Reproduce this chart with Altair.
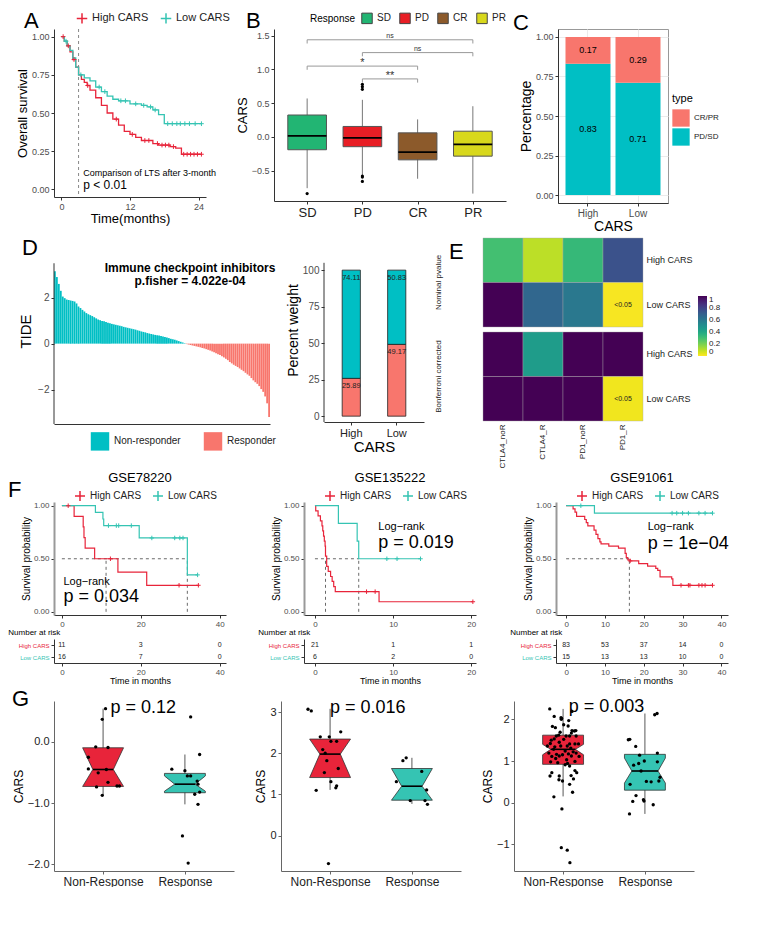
import altair as alt
import pandas as pd

FONT = "Liberation Sans"
RED = "#E8243A"
TEAL = "#35C4B3"
SALMON = "#F8766D"
CYAN = "#00BFC4"
PLUS = "M-1,0L1,0M0,-1L0,1"
GROUPS = ["High CARS", "Low CARS"]

# ---------------- Panel A data
a_high_t = [0, 0.5, 1, 1.5, 2, 2.5, 3, 3.5, 4, 4.5, 5, 6, 7, 8, 9, 10, 11, 12, 13, 14, 16, 17, 19, 20, 21, 24.5]
a_high_s = [1, 0.97, 0.94, 0.9, 0.85, 0.8, 0.75, 0.72, 0.7, 0.68, 0.65, 0.6, 0.55, 0.5, 0.46, 0.42, 0.38, 0.36, 0.34, 0.32, 0.3, 0.29, 0.28, 0.27, 0.23, 0.23]
a_low_t = [0, 0.5, 1, 1.5, 2, 2.5, 3, 4, 5, 6, 7, 8, 9, 10, 12, 14, 15, 16, 17, 18, 24.5]
a_low_s = [1, 0.97, 0.94, 0.91, 0.86, 0.8, 0.75, 0.73, 0.71, 0.67, 0.64, 0.61, 0.59, 0.58, 0.56, 0.55, 0.54, 0.52, 0.49, 0.43, 0.43]
a_high_cens = [0.3, 1.2, 2.2, 4.6, 9.6, 12.4, 14.6, 15.3, 16.8, 17.6, 18.2, 18.8, 19.6, 21.4, 22.0, 22.6, 23.2, 23.8, 24.5]
a_low_cens = [0.8, 3.4, 6.6, 7.6, 10.4, 11.2, 13.0, 14.4, 15.6, 16.4, 18.6, 19.4, 20.2, 20.8, 21.6, 22.4, 23.4, 24.5]
a_notes = ["Comparison of LTS after 3-month", "p < 0.01"]
a_note_x = [3.8, 3.8]
a_note_y = [0.11, 0.03]
a_note_size = [9, 12]

# ---------------- Panel B data
b_cats = ["SD", "PD", "CR", "PR"]
b_colors = ["#22B573", "#E81E25", "#8C5A2B", "#D8D81C"]
b_lo = [-0.76, -0.57, -0.62, -0.84]
b_q1 = [-0.19, -0.145, -0.34, -0.285]
b_med = [0.015, -0.015, -0.225, -0.11]
b_q3 = [0.325, 0.155, 0.06, 0.085]
b_hi = [0.57, 0.55, 0.26, 0.455]
b_out_cat = ["SD", "PD", "PD", "PD", "PD", "PD", "PD"]
b_out_val = [-0.84, 0.78, 0.745, 0.705, -0.58, -0.595, -0.66]
b_br_from = ["SD", "PD", "SD", "PD"]
b_br_to = ["PR", "PR", "CR", "CR"]
b_br_y = [1.44, 1.25, 1.05, 0.86]
b_br_lab = ["ns", "ns", "*", "**"]

# ---------------- Panel C data
c_cats = ["High", "Low"]
c_pdsd = [0.83, 0.71]
c_crpr = [0.17, 0.29]

# ---------------- Panel D data
d_tide = [3.15, 2.9, 2.6, 2.3, 2.05, 1.98, 1.92, 1.9, 1.88, 1.86, 1.83, 1.75,
          1.62, 1.55, 1.47, 1.4, 1.33, 1.28, 1.24, 1.2, 1.15, 1.1, 1.05, 1.02,
          0.99, 0.97, 0.94, 0.91, 0.89, 0.86, 0.84, 0.82, 0.8, 0.78, 0.76,
          0.73, 0.71, 0.69, 0.67, 0.65, 0.63, 0.61, 0.58, 0.56, 0.53, 0.51, 0.49, 0.46, 0.44,
          0.42, 0.4, 0.38, 0.36, 0.35, 0.33, 0.31, 0.29, 0.27, 0.24, 0.21, 0.19, 0.17,
          0.14, 0.11, 0.08, 0.05, 0.02,
          -0.02, -0.04, -0.06, -0.08, -0.1, -0.12, -0.14, -0.16, -0.19, -0.21, -0.24, -0.27,
          -0.3, -0.34, -0.38, -0.42, -0.46, -0.5, -0.55, -0.6, -0.66, -0.72, -0.8, -0.86,
          -0.92, -0.97, -1.02, -1.08, -1.14, -1.2, -1.27, -1.34, -1.4,
          -1.5, -1.6, -1.68, -1.75, -1.85, -1.98, -2.1, -2.3, -2.6, -3.2]
d_title = ["Immune checkpoint inhibitors", "p.fisher = 4.022e-04"]
d2_cats = ["High", "Low"]
d2_resp = [25.89, 49.17]
d2_non = [74.11, 50.83]

# ---------------- Panel E data
e_cols = ["CTLA4_noR", "CTLA4_R", "PD1_noR", "PD1_R"]
e_panels = ["Nominal pvalue", "Bonferroni corrected"]
e_nom_high = [0.3, 0.1, 0.33, 0.75]
e_nom_low = [1.0, 0.67, 0.6, 0.01]
e_bon_high = [1.0, 0.45, 1.0, 1.0]
e_bon_low = [1.0, 1.0, 1.0, 0.02]

# ---------------- Panel F data
f1_high_t = [0, 3.1, 5.4, 5.6, 5.9, 8.3, 14.2, 21.5, 34.6]
f1_high_s = [1, 0.9, 0.8, 0.7, 0.6, 0.5, 0.375, 0.25, 0.25]
f1_high_c = [1.6, 12.3, 29.7, 34.6]
f1_low_t = [0, 8.5, 10.4, 10.6, 19.6, 31.8, 34.4]
f1_low_s = [1, 0.9375, 0.875, 0.8125, 0.696, 0.348, 0.348]
f1_low_c = [11.8, 13.8, 14.4, 17.6, 22.8, 28.6, 29.9, 30.7, 34.4]
f1_med = [11.2, 31.8]
f1_risk_t = [0, 20, 40]
f1_risk_high = [11, 3, 0]
f1_risk_low = [16, 7, 0]

f2_high_t = [0, 0.1, 0.4, 0.7, 0.9, 1.0, 1.1, 1.2, 1.3, 1.35, 1.5, 1.7, 2.0, 2.2, 2.4, 2.6, 8.2, 20.2]
f2_high_s = [1.0, 0.952, 0.905, 0.857, 0.81, 0.762, 0.714, 0.667, 0.619, 0.524, 0.429, 0.381, 0.333, 0.286, 0.238, 0.19, 0.095, 0.095]
f2_high_c = [6.6, 7.7, 20.2]
f2_low_t = [0, 3.0, 5.4, 5.6, 13.5]
f2_low_s = [1.0, 0.833, 0.667, 0.5, 0.5]
f2_low_c = [9.2, 10.5, 13.5]
f2_med = [1.35, 5.6]
f2_risk_t = [0, 10, 20]
f2_risk_high = [21, 1, 1]
f2_risk_low = [6, 2, 0]

f3_high_t = [0, 1.8, 2.3, 2.7, 4.8, 5.2, 5.6, 7.2, 7.7, 8.2, 8.7, 9.0, 11.0, 13.5, 15.2, 15.5, 15.9, 16.5, 18.7, 21.0, 23.1, 23.6, 24.2, 27.2, 27.5, 37.7]
f3_high_s = [1.0, 0.97, 0.94, 0.9, 0.87, 0.84, 0.81, 0.77, 0.73, 0.69, 0.66, 0.64, 0.62, 0.6, 0.55, 0.51, 0.49, 0.48, 0.455, 0.43, 0.41, 0.39, 0.33, 0.31, 0.25, 0.25]
f3_high_c = [16.5, 29.6, 31.5, 31.9, 34.2, 35.0, 35.8, 37.7]
f3_low_t = [0, 7.3, 37.7]
f3_low_s = [1.0, 0.93, 0.93]
f3_low_c = [3.8, 27.3, 28.5, 30.0, 31.5, 34.2, 35.8, 37.7]
f3_med = [16.3]
f3_risk_t = [0, 10, 20, 30, 40]
f3_risk_high = [83, 53, 37, 14, 0]
f3_risk_low = [15, 13, 13, 10, 0]

# ---------------- Panel G data
g_groups = ["Non-Response", "Response"]
g1_red = dict(q1=-0.727, nlo=-0.727, med=-0.45, nhi=-0.095, q3=-0.095, lo=-0.873, hi=0.545, r=0.5)
g1_teal = dict(q1=-0.83, nlo=-0.805, med=-0.69, nhi=-0.555, q3=-0.514, lo=-1.02, hi=-0.205, r=0.5)
g1_red_dx = [0.03, -0.01, -0.09, 0.06, -0.18, -0.18, -0.06, 0.04, 0.06, -0.08, 0.17, 0.2, -0.01]
g1_red_y = [0.545, 0.37, -0.08, -0.09, -0.25, -0.44, -0.505, -0.45, -0.66, -0.735, -0.72, -0.72, -0.873]
g1_teal_dx = [-0.16, 0.0, 0.03, 0.07, 0.15, 0.16, 0.18, 0.12, 0.16, 0.18, 0.07, -0.03, 0.04]
g1_teal_y = [-0.445, -0.47, -0.555, -0.555, -0.64, -0.69, -0.82, -0.855, -1.02, -0.205, 0.41, -1.536, -1.98]

g2_red = dict(q1=1.41, nlo=1.41, med=1.98, nhi=2.345, q3=2.345, lo=1.11, hi=3.08, r=0.5)
g2_teal = dict(q1=0.86, nlo=0.86, med=1.2, nhi=1.63, q3=1.63, lo=0.77, hi=1.89, r=0.5)
g2_red_dx = [-0.27, -0.23, 0.13, -0.12, -0.01, 0.01, 0.08, -0.09, -0.06, -0.04, 0.1, -0.07, 0.01, 0.08, 0.07, -0.17, -0.02]
g2_red_y = [3.07, 3.03, 2.52, 2.4, 2.4, 2.29, 2.29, 2.09, 2.0, 1.82, 1.63, 1.53, 1.31, 1.21, 1.16, 1.1, -0.68]
g2_teal_dx = [-0.11, -0.07, 0.12, -0.19, 0.18, -0.02, 0.16, 0.19]
g2_teal_y = [1.82, 1.89, 1.56, 1.31, 1.11, 0.85, 0.85, 0.76]

g3_red = dict(q1=0.92, nlo=1.15, med=1.28, nhi=1.4, q3=1.62, lo=0.15, hi=2.25, r=0.6)
g3_teal = dict(q1=0.3, nlo=0.47, med=0.76, nhi=1.07, q3=1.16, lo=-0.27, hi=2.14, r=0.64)
g3_red_px = [173, 248, 188, 211, 213, 212, 237, 182, 235, 192, 220, 248, 256, 261, 208, 246, 195, 203, 228, 240,
             262, 178, 188, 220, 205, 175, 240, 258, 270, 165, 190, 210, 232, 244, 186, 225, 252, 170, 196, 216,
             236, 262, 180, 205, 246, 272, 193, 230, 176, 200, 258, 233, 240, 225, 180, 258, 264, 174, 205, 245,
             253, 204, 216, 240, 250, 187, 214, 212, 232, 241]
g3_red_y = [2.25, 2.19, 2.07, 2.04, 2.02, 2.0, 1.97, 1.83, 1.84, 1.8, 1.87, 1.73, 1.72, 1.73, 1.69, 1.67, 1.6, 1.62, 1.6, 1.6,
            1.6, 1.5, 1.53, 1.52, 1.45, 1.42, 1.41, 1.41, 1.41, 1.36, 1.34, 1.36, 1.36, 1.31, 1.28, 1.24, 1.22, 1.19, 1.16, 1.15,
            1.17, 1.19, 1.11, 1.12, 1.12, 1.11, 1.06, 1.03, 0.98, 0.96, 0.99, 0.94, 0.88, 0.91, 0.72, 0.77, 0.72, 0.64, 0.64, 0.65,
            0.57, 0.55, 0.52, 0.44, 0.25, 0.14, -0.15, -1.08, -1.14, -1.44]
g3_teal_px = [437, 442, 462, 534, 526, 475, 535, 491, 535, 455, 472, 480, 544, 540, 498, 514, 443, 463, 488, 490, 452, 521, 441]
g3_teal_y = [1.51, 1.52, 1.35, 2.14, 2.11, 1.14, 1.19, 1.0, 0.98, 0.9, 0.94, 0.76, 0.61, 0.52, 0.51, 0.5, 0.44, 0.17, 0.07, 0.04, 0.03, -0.05, -0.27]
g3_red_dx = [(p - 218) / 276 for p in g3_red_px]
g3_teal_dx = [(p - 493) / 276 for p in g3_teal_px]


# ================= helpers
def label_mark(ch, x, y, size=22, align="left", baseline="top", weight="normal"):
    return alt.Chart(pd.DataFrame({"l": [ch]})).mark_text(
        fontSize=size, align=align, baseline=baseline, font=FONT, color="black", fontWeight=weight
    ).encode(x=alt.value(x), y=alt.value(y), text="l:N")


def step_at(ts, ss, x):
    v = ss[0]
    for t, s in zip(ts, ss):
        if t <= x:
            v = s
    return v


def km_frames(ht, hs, lt, ls):
    return pd.concat([pd.DataFrame({"t": ht, "s": hs, "grpkm": "High CARS"}),
                      pd.DataFrame({"t": lt, "s": ls, "grpkm": "Low CARS"})], ignore_index=True)


def cens_frame(ht, hs, hc, lt, ls, lc):
    rows = [{"t": c, "s": step_at(ht, hs, c), "grpkm": "High CARS"} for c in hc]
    rows += [{"t": c, "s": step_at(lt, ls, c), "grpkm": "Low CARS"} for c in lc]
    return pd.DataFrame(rows)


def cscale():
    return alt.Scale(domain=GROUPS, range=[RED, TEAL])


IND = dict(color="independent", x="independent", y="independent")

# ================= Panel A
A_W, A_H = 152, 168
a_x = alt.X("t:Q", scale=alt.Scale(domain=[-1.3, 25.3], nice=False, zero=False),
            axis=alt.Axis(values=list(range(0, 25, 3)), title="Time(months)", titleFontSize=13, labelFontSize=9,
                          titlePadding=1))
a_y = alt.Y("s:Q", scale=alt.Scale(domain=[-0.05, 1.05], nice=False),
            axis=alt.Axis(values=[0, 0.25, 0.5, 0.75, 1], format=".2f", title="Overall survival", titleFontSize=13,
                          labelFontSize=9, titlePadding=2))
a_lines = alt.Chart(km_frames(a_high_t, a_high_s, a_low_t, a_low_s)).mark_line(
    interpolate="step-after", strokeWidth=1.3).encode(
    x=a_x, y=a_y,
    color=alt.Color("grpkm:N", scale=cscale(), legend=alt.Legend(
        title=None, orient="none", legendX=22, legendY=-17, direction="horizontal",
        symbolType=PLUS, symbolSize=110, symbolStrokeWidth=1.5, labelFontSize=11, columnPadding=8)))
a_cens = alt.Chart(cens_frame(a_high_t, a_high_s, a_high_cens, a_low_t, a_low_s, a_low_cens)).mark_point(
    shape=PLUS, size=22, strokeWidth=1, filled=False, opacity=1).encode(
    x="t:Q", y="s:Q", color=alt.Color("grpkm:N", scale=cscale(), legend=None))
a_rule = alt.Chart(pd.DataFrame({"x": [3]})).mark_rule(strokeDash=[3, 3], color="#888", strokeWidth=1).encode(x="x:Q")
a_text = alt.Chart(pd.DataFrame({"x": a_note_x, "y": a_note_y, "l": a_notes, "sz": a_note_size})).mark_text(
    align="left", baseline="middle", color="black").encode(
    x="x:Q", y="y:Q", text="l:N", size=alt.Size("sz:Q", scale=None, legend=None))
panel_a = alt.layer(a_rule, a_lines, a_cens, a_text, label_mark("A", -30, -18)).properties(width=A_W, height=A_H)

# ================= Panel B
pos = {c: i + 1 for i, c in enumerate(b_cats)}
b_df = pd.DataFrame({"cat": b_cats, "p": [pos[c] for c in b_cats], "lo": b_lo, "q1": b_q1,
                     "med": b_med, "q3": b_q3, "hi": b_hi})
b_df["x1"] = b_df["p"] - 0.35
b_df["x2"] = b_df["p"] + 0.35
b_x = alt.X("p:Q", scale=alt.Scale(domain=[0.4, 4.6], nice=False, zero=False),
            axis=alt.Axis(values=[1, 2, 3, 4], labelExpr="['','SD','PD','CR','PR'][datum.value]",
                          title=None, labelFontSize=13, labelColor="#222"))
b_y = alt.Y("lo:Q", scale=alt.Scale(domain=[-0.95, 1.6], nice=False),
            axis=alt.Axis(values=[-0.5, 0, 0.5, 1.0, 1.5], format=".1f", title="CARS", titleFontSize=13,
                          labelFontSize=9, titlePadding=2))
b_whisk = alt.Chart(b_df).mark_rule(color="#777", strokeWidth=1).encode(x=b_x, y=b_y, y2="hi:Q")
b_box = alt.Chart(b_df).mark_rect(stroke="#555", strokeWidth=1).encode(
    x="x1:Q", x2="x2:Q", y="q1:Q", y2="q3:Q",
    color=alt.Color("cat:N", scale=alt.Scale(domain=b_cats, range=b_colors), legend=alt.Legend(
        title="Response", titleOrient="left", orient="none", legendX=36, legendY=-17, direction="horizontal",
        symbolType="square", symbolSize=110, symbolStrokeColor="#444", symbolStrokeWidth=1,
        labelFontSize=10, titleFontSize=10, columnPadding=6)))
b_medr = alt.Chart(b_df).mark_rule(color="black", strokeWidth=1.8).encode(x="x1:Q", x2="x2:Q", y="med:Q")
b_out = alt.Chart(pd.DataFrame({"p": [pos[c] for c in b_out_cat], "v": b_out_val})).mark_circle(
    size=10, color="black", opacity=1).encode(x="p:Q", y="v:Q")
br_df = pd.DataFrame({"p1": [pos[c] for c in b_br_from], "p2": [pos[c] for c in b_br_to], "y": b_br_y, "lab": b_br_lab})
br_df["yb"] = br_df["y"] - 0.055
br_df["pm"] = (br_df["p1"] + br_df["p2"]) / 2
br_df["yt"] = br_df["y"] + 0.05
br_df["sz"] = [7 if l == "ns" else 11 for l in b_br_lab]
b_brh = alt.Chart(br_df).mark_rule(color="#999", strokeWidth=1).encode(x="p1:Q", x2="p2:Q", y="y:Q")
b_brl = alt.Chart(br_df).mark_rule(color="#999", strokeWidth=1).encode(x="p1:Q", y="y:Q", y2="yb:Q")
b_brr = alt.Chart(br_df).mark_rule(color="#999", strokeWidth=1).encode(x="p2:Q", y="y:Q", y2="yb:Q")
b_brt = alt.Chart(br_df).mark_text(color="#333").encode(
    x="pm:Q", y="yt:Q", text="lab:N", size=alt.Size("sz:Q", scale=None, legend=None))
panel_b = alt.layer(b_whisk, b_box, b_medr, b_out, b_brh, b_brl, b_brr, b_brt,
                    label_mark("B", -28, -18)).properties(width=232, height=172)

# ================= Panel C
c_rows = []
for cat, a, b in zip(c_cats, c_pdsd, c_crpr):
    c_rows.append({"cat": cat, "ctype": "PD/SD", "y0": 0, "y1": a, "mid": a / 2, "lab": f"{a:.2f}"})
    c_rows.append({"cat": cat, "ctype": "CR/PR", "y0": a, "y1": a + b, "mid": a + b / 2, "lab": f"{b:.2f}"})
c_df = pd.DataFrame(c_rows)
C_W = 110
c_x = alt.X("cat:N", scale=alt.Scale(paddingInner=0.1, paddingOuter=0.15),
            axis=alt.Axis(title="CARS", labelAngle=0, titleFontSize=14, labelFontSize=10, grid=True,
                          gridColor="#ebebeb", titlePadding=1))
c_y = alt.Y("y0:Q", scale=alt.Scale(domain=[-0.05, 1.05], nice=False),
            axis=alt.Axis(values=[0, 0.25, 0.5, 0.75, 1], format=".2f", title="Percentage",
                          titleFontSize=14, labelFontSize=9, grid=True, gridColor="#ebebeb", titlePadding=2))
c_bar = alt.Chart(c_df).mark_bar().encode(
    x=c_x, y=c_y, y2="y1:Q",
    color=alt.Color("ctype:N", scale=alt.Scale(domain=["CR/PR", "PD/SD"], range=[SALMON, CYAN]), legend=alt.Legend(
        title="type", orient="none", legendX=C_W + 4, legendY=64, symbolType="square", symbolSize=300,
        symbolStrokeWidth=0, labelFontSize=8, titleFontSize=11, rowPadding=1)))
c_txt = alt.Chart(c_df).mark_text(fontSize=9, color="black").encode(x="cat:N", y="mid:Q", text="lab:N")
panel_c = alt.layer(c_bar, c_txt, label_mark("C", -45, -16)).properties(
    width=C_W, height=174, view=alt.ViewBackground(stroke="#999", strokeWidth=1))

# ================= Panel D (waterfall)
D_W, D_H = 216, 186
D_TOP = 4.6
d_df = pd.DataFrame({"i": list(range(len(d_tide))), "v": d_tide,
                     "dgrp": ["Non-responder" if v > 0 else "Responder" for v in d_tide]})
d_bars = alt.Chart(d_df).mark_bar().encode(
    x=alt.X("i:O", scale=alt.Scale(paddingInner=0.08, paddingOuter=0),
            axis=alt.Axis(labels=False, ticks=False, title=None, domainColor="#333")),
    y=alt.Y("v:Q", scale=alt.Scale(domain=[-3.5, D_TOP], nice=False),
            axis=alt.Axis(values=[-2, 0, 2], title="TIDE", titleFontSize=15, labelFontSize=10, titlePadding=4,
                          domain=False)),
    color=alt.Color("dgrp:N", scale=alt.Scale(domain=["Non-responder", "Responder"], range=[CYAN, SALMON]),
                    legend=alt.Legend(title=None, orient="none", legendX=36, legendY=D_H + 7, direction="horizontal",
                                      symbolType="square", symbolSize=340, labelFontSize=10, columnPadding=22)))
d_axis = alt.Chart(pd.DataFrame({"a": [-3.5], "b": [3.5]})).mark_rule(color="#333", strokeWidth=1).encode(
    x=alt.value(0), y="a:Q", y2="b:Q")
d_t = alt.Chart(pd.DataFrame({"l": d_title, "yy": [30, 43]})).mark_text(
    fontSize=12, fontWeight="bold", color="black").encode(x=alt.value(136), y=alt.Y("yy:Q", scale=None), text="l:N")
panel_d = alt.layer(d_bars, d_axis, d_t, label_mark("D", -32, 0)).properties(width=D_W, height=D_H)

# ================= Panel D (stacked percent)
D2_TOP = 122
d2_rows = []
for cat, r, n in zip(d2_cats, d2_resp, d2_non):
    d2_rows.append({"cat": cat, "dgrp2": "Responder", "y0": 0, "y1": r, "ly": r - 5.5, "lab": f"{r:.2f}"})
    d2_rows.append({"cat": cat, "dgrp2": "Non-responder", "y0": r, "y1": 100, "ly": 100 - 5.5, "lab": f"{n:.2f}"})
d2_df = pd.DataFrame(d2_rows)
d2_bar = alt.Chart(d2_df).mark_bar(stroke="#222", strokeWidth=0.8).encode(
    x=alt.X("cat:N", scale=alt.Scale(paddingInner=0.6, paddingOuter=0.4),
            axis=alt.Axis(title="CARS", labelAngle=0, titleFontSize=15, labelFontSize=11, labelColor="#222",
                          titlePadding=1)),
    y=alt.Y("y0:Q", scale=alt.Scale(domain=[-4, D2_TOP], nice=False),
            axis=alt.Axis(values=[0, 25, 50, 75, 100], title="Percent weight", titleFontSize=14, labelFontSize=10,
                          titlePadding=2, domain=False)),
    y2="y1:Q",
    color=alt.Color("dgrp2:N", scale=alt.Scale(domain=["Non-responder", "Responder"], range=[CYAN, SALMON]),
                    legend=None))
d2_axis = alt.Chart(pd.DataFrame({"a": [-4], "b": [105]})).mark_rule(color="#333", strokeWidth=1).encode(
    x=alt.value(0), y="a:Q", y2="b:Q")
d2_txt = alt.Chart(d2_df).mark_text(fontSize=7.5, color="#222").encode(x="cat:N", y="ly:Q", text="lab:N")
panel_d2 = alt.layer(d2_bar, d2_axis, d2_txt).properties(width=100, height=184)

# ================= Panel E
E_W, E_H = 160, 89
e_rows = []
for panel, hi_vals, lo_vals in [("Nominal pvalue", e_nom_high, e_nom_low), ("Bonferroni corrected", e_bon_high, e_bon_low)]:
    for col, v in zip(e_cols, hi_vals):
        e_rows.append({"panel": panel, "row": "High CARS", "col": col, "ev": v, "lab": "<0.05" if v < 0.05 else ""})
    for col, v in zip(e_cols, lo_vals):
        e_rows.append({"panel": panel, "row": "Low CARS", "col": col, "ev": v, "lab": "<0.05" if v < 0.05 else ""})
e_df = pd.DataFrame(e_rows)
e_base = alt.Chart().encode(
    x=alt.X("col:N", sort=e_cols, axis=alt.Axis(title=None, labelAngle=-90, labelFontSize=8, ticks=False,
                                                domain=False, labelColor="#222")),
    y=alt.Y("row:N", sort=GROUPS, axis=alt.Axis(orient="right", title=None, labelFontSize=9, ticks=False,
                                                domain=False, labelColor="#222")))
e_rect = e_base.mark_rect(stroke="#aaaaaa", strokeWidth=0.4).encode(
    color=alt.Color("ev:Q", scale=alt.Scale(scheme="viridis", reverse=True, domain=[0, 1]),
                    legend=alt.Legend(title=None, orient="none", legendX=E_W + 55, legendY=58,
                                      gradientLength=60, gradientThickness=9, format="~g",
                                      values=[0, 0.2, 0.4, 0.6, 0.8, 1], labelFontSize=8,
                                      labelOverlap=False, padding=0)))
e_txt = e_base.mark_text(fontSize=7, color="#222").encode(text="lab:N")
e_let = e_base.mark_text(fontSize=22, align="left", baseline="middle", color="black").encode(
    x=alt.value(-34), y=alt.value(14), text=alt.value("E")).transform_filter(
    "datum.panel == 'Nominal pvalue' && datum.row == 'High CARS' && datum.col == 'CTLA4_noR'")
panel_e = alt.layer(e_rect, e_txt, e_let, data=e_df).properties(width=E_W, height=E_H).facet(
    row=alt.Row("panel:N", sort=e_panels, header=alt.Header(title=None, labelOrient="left", labelAngle=-90,
                                                          labelFontSize=8, labelPadding=2)),
    spacing=3)


# ================= Panel F
F_W, F_H = 172, 113


def f_panel(name, ht, hs, hc, lt, ls, lc, xdom, xvals, meds, lr_x, lr_y, pval,
            risk_t, risk_h, risk_l, let=None):
    fx = alt.X("t:Q", scale=alt.Scale(domain=xdom, nice=False, zero=False),
               axis=alt.Axis(values=xvals, title=None, labelFontSize=8))
    fy = alt.Y("s:Q", scale=alt.Scale(domain=[-0.03, 1.035], nice=False),
               axis=alt.Axis(values=[0, 0.25, 0.5, 0.75, 1], format=".2f", title="Survival probability",
                             titleFontSize=10, labelFontSize=8, domainWidth=2, domainColor="#999", titlePadding=2))
    lines = alt.Chart(km_frames(ht, hs, lt, ls)).mark_line(interpolate="step-after", strokeWidth=1.2).encode(
        x=fx, y=fy, color=alt.Color("grpkm:N", scale=cscale(), legend=alt.Legend(
            title=None, orient="none", legendX=20, legendY=-12, direction="horizontal",
            symbolType=PLUS, symbolSize=100, symbolStrokeWidth=1.5, labelFontSize=10, columnPadding=8)))
    cens = alt.Chart(cens_frame(ht, hs, hc, lt, ls, lc)).mark_point(
        shape=PLUS, size=20, strokeWidth=1, filled=False, opacity=1).encode(
        x="t:Q", y="s:Q", color=alt.Color("grpkm:N", scale=cscale(), legend=None))
    hline = alt.Chart(pd.DataFrame({"a": [0], "b": [max(meds)], "y": [0.5]})).mark_rule(
        strokeDash=[3, 3], color="#444", strokeWidth=0.8).encode(x="a:Q", x2="b:Q", y="y:Q")
    vline = alt.Chart(pd.DataFrame({"m": meds, "y0": [0] * len(meds), "y1": [0.5] * len(meds)})).mark_rule(
        strokeDash=[3, 3], color="#444", strokeWidth=0.8).encode(x="m:Q", y="y0:Q", y2="y1:Q")
    txt = alt.Chart(pd.DataFrame({"x": [lr_x, lr_x], "y": lr_y, "l": ["Log\u2212rank", pval], "sz": [11, 18]})).mark_text(
        align="left", baseline="middle", color="black").encode(
        x="x:Q", y="y:Q", text="l:N", size=alt.Size("sz:Q", scale=None, legend=None))
    layers = [hline, vline, lines, cens, txt, label_mark(name, F_W / 2, -30, size=13, align="center")]
    if let:
        layers.append(label_mark(let, -46, -22))
    km = alt.layer(*layers).properties(width=F_W, height=F_H)
    rdf = pd.DataFrame({"t": risk_t + risk_t, "n": risk_h + risk_l,
                        "rg": ["High CARS"] * len(risk_t) + ["Low CARS"] * len(risk_t)})
    risk = alt.Chart(rdf).mark_text(fontSize=7, color="#222").encode(
        x=alt.X("t:Q", scale=alt.Scale(domain=xdom, nice=False, zero=False),
                axis=alt.Axis(values=xvals, title="Time in months", titleFontSize=9, labelFontSize=8, titlePadding=0)),
        y=alt.Y("rg:N", scale=alt.Scale(domain=GROUPS),
                axis=alt.Axis(title=None, labelFontSize=6, labelColor={
                    "condition": {"test": "datum.value === 'High CARS'", "value": RED}, "value": TEAL})),
        text="n:Q").properties(width=F_W, height=24, title=alt.TitleParams(
            "Number at risk", fontSize=8, anchor="start", offset=2, dx=-10))
    return alt.vconcat(km, risk, spacing=1).resolve_scale(**IND)


panel_f1 = f_panel("GSE78220", f1_high_t, f1_high_s, f1_high_c, f1_low_t, f1_low_s, f1_low_c,
                   [-2, 41.6], [0, 20, 40], f1_med, 0.4, [0.28, 0.14], "p = 0.034",
                   f1_risk_t, f1_risk_high, f1_risk_low, let="F")
panel_f2 = f_panel("GSE135222", f2_high_t, f2_high_s, f2_high_c, f2_low_t, f2_low_s, f2_low_c,
                   [-1.4, 20.6], [0, 10, 20], f2_med, 8.1, [0.80, 0.65], "p = 0.019",
                   f2_risk_t, f2_risk_high, f2_risk_low)
panel_f3 = f_panel("GSE91061", f3_high_t, f3_high_s, f3_high_c, f3_low_t, f3_low_s, f3_low_c,
                   [-2.6, 41.7], [0, 10, 20, 30, 40], f3_med, 21, [0.80, 0.64], "p = 1e\u221204",
                   f3_risk_t, f3_risk_high, f3_risk_low)

# ================= Panel G
G_W, G_H = 180, 170


def g_panel(sr, st, rdx, ry, tdx, ty, ydom, yvals, yfmt, ptxt, px, py, let=None):
    hw = 0.25
    area_rows, stat_rows = [], []
    for c, s, g in [(1, sr, "Non-Response"), (2, st, "Response")]:
        for yv, f in zip([s["q1"], s["nlo"], s["med"], s["nhi"], s["q3"]], [1, 1, s["r"], 1, 1]):
            area_rows.append({"gg": g, "y": yv, "xl": c - hw * f, "xr": c + hw * f})
        stat_rows.append({"gg": g, "c": c, "lo": s["lo"], "hi": s["hi"], "med": s["med"],
                          "m1": c - hw * s["r"], "m2": c + hw * s["r"]})
    sdf = pd.DataFrame(stat_rows)
    gx = alt.X("c:Q", scale=alt.Scale(domain=[0.4, 2.6], nice=False, zero=False),
               axis=alt.Axis(values=[1, 2], labelExpr="datum.value == 1 ? 'Non-Response' : 'Response'",
                             title=None, labelFontSize=12, labelColor="#222", domainColor="#666", tickColor="#666"))
    gy = alt.Y("lo:Q", scale=alt.Scale(domain=ydom, nice=False),
               axis=alt.Axis(values=yvals, format=yfmt, title="CARS", titleFontSize=12, labelFontSize=11,
                             labelColor="#222", domainColor="#666", tickColor="#666", titlePadding=2))
    whisk = alt.Chart(sdf).mark_rule(color="#444", strokeWidth=0.9).encode(x=gx, y=gy, y2="hi:Q")
    box = alt.Chart(pd.DataFrame(area_rows)).mark_area(orient="horizontal", stroke="#333", strokeWidth=0.8,
                                                        opacity=1).encode(
        y="y:Q", x="xl:Q", x2="xr:Q",
        color=alt.Color("gg:N", scale=alt.Scale(domain=g_groups, range=[RED, TEAL]), legend=None))
    medr = alt.Chart(sdf).mark_rule(color="black", strokeWidth=1.6).encode(x="m1:Q", x2="m2:Q", y="med:Q")
    pts = pd.DataFrame({"x": [1 + d for d in rdx] + [2 + d for d in tdx], "y": ry + ty})
    pnt = alt.Chart(pts).mark_circle(size=11, color="black", opacity=1).encode(x="x:Q", y="y:Q")
    ptx = alt.Chart(pd.DataFrame({"x": [px], "y": [py], "l": [ptxt]})).mark_text(
        fontSize=18, color="black").encode(x="x:Q", y="y:Q", text="l:N")
    layers = [whisk, box, medr, pnt, ptx]
    if let:
        layers.append(label_mark(let, -42, -12))
    return alt.layer(*layers).properties(width=G_W, height=G_H)


panel_g1 = g_panel(g1_red, g1_teal, g1_red_dx, g1_red_y, g1_teal_dx, g1_teal_y,
                   [-2.11, 0.67], [-2, -1.5, -1, -0.5, 0, 0.5], ".1f", "p = 0.12", 1.49, 0.56, let="G")
panel_g2 = g_panel(g2_red, g2_teal, g2_red_dx, g2_red_y, g2_teal_dx, g2_teal_y,
                   [-0.86, 3.27], [0, 1, 2, 3], "d", "p = 0.016", 1.46, 3.09)
panel_g3 = g_panel(g3_red, g3_teal, g3_red_dx, g3_red_y, g3_teal_dx, g3_teal_y,
                   [-1.64, 2.44], [-1, 0, 1, 2], "d", "p = 0.003", 1.53, 2.3)

row1 = alt.hconcat(panel_a, panel_b, panel_c, spacing=6).resolve_scale(**IND)
row2 = alt.hconcat(panel_d, panel_d2, panel_e, spacing=10).resolve_scale(**IND)
row3 = alt.hconcat(panel_f1, panel_f2, panel_f3, spacing=32).resolve_scale(**IND)
row4 = alt.hconcat(panel_g1, panel_g2, panel_g3, spacing=20).resolve_scale(**IND)

chart = alt.vconcat(row1, row2, row3, row4, spacing=3).resolve_scale(**IND).configure(
    font=FONT, padding={"left": 0, "top": 2, "right": 0, "bottom": 0}
).configure_view(stroke=None).configure_axis(
    labelFont=FONT, titleFont=FONT, grid=False, domainColor="#333", tickColor="#333",
    labelColor="#4d4d4d", titleFontWeight="normal", titleColor="black", tickSize=3
).configure_legend(labelFont=FONT, titleFont=FONT, titleFontWeight="normal", labelColor="#222"
).configure_title(font=FONT, fontWeight="normal", color="black"
).configure_header(labelFont=FONT, labelColor="#222")

chart.save("out.html", embed_options={"renderer": "svg", "actions": False})
